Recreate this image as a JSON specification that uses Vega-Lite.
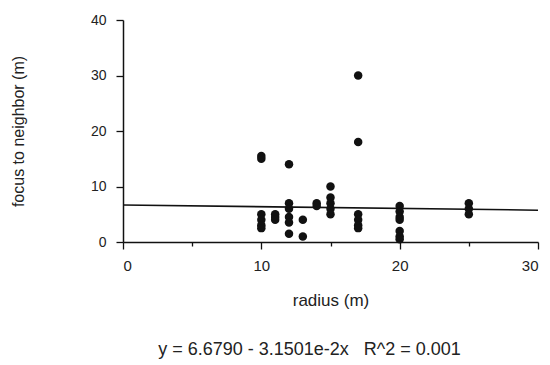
{
  "$schema": "https://vega.github.io/schema/vega-lite/v6.json",
  "width": 415,
  "height": 222,
  "autosize": "none",
  "padding": {"left": 123, "top": 20, "right": 12, "bottom": 123},
  "background": "white",
  "config": {
    "view": {"stroke": null},
    "font": "Liberation Sans",
    "axis": {
      "domainColor": "#111",
      "domainWidth": 1.5,
      "tickColor": "#111",
      "tickWidth": 1.3,
      "grid": false,
      "labelColor": "#222",
      "titleColor": "#222",
      "labelFont": "Liberation Sans",
      "titleFont": "Liberation Sans",
      "titleFontWeight": "normal"
    }
  },
  "title": {
    "text": "y = 6.6790 - 3.1501e-2x \u00a0 R^2 = 0.001",
    "orient": "bottom",
    "anchor": "middle",
    "font": "Liberation Sans",
    "fontSize": 18,
    "fontWeight": "normal",
    "color": "#222",
    "offset": 33,
    "dx": -21
  },
  "datasets": {
    "pts": [
      {"radius": 10, "dist": 15.5}, {"radius": 10, "dist": 15}, {"radius": 10, "dist": 5}, {"radius": 10, "dist": 4}, {"radius": 10, "dist": 3}, {"radius": 10, "dist": 2.5},
      {"radius": 11, "dist": 5}, {"radius": 11, "dist": 4.5}, {"radius": 11, "dist": 4},
      {"radius": 12, "dist": 14}, {"radius": 12, "dist": 7}, {"radius": 12, "dist": 6}, {"radius": 12, "dist": 4.5}, {"radius": 12, "dist": 3.5}, {"radius": 12, "dist": 1.5},
      {"radius": 13, "dist": 4}, {"radius": 13, "dist": 1},
      {"radius": 14, "dist": 7}, {"radius": 14, "dist": 6.5},
      {"radius": 15, "dist": 10}, {"radius": 15, "dist": 8}, {"radius": 15, "dist": 7}, {"radius": 15, "dist": 6}, {"radius": 15, "dist": 5},
      {"radius": 17, "dist": 30}, {"radius": 17, "dist": 18}, {"radius": 17, "dist": 5}, {"radius": 17, "dist": 4}, {"radius": 17, "dist": 3}, {"radius": 17, "dist": 2.5},
      {"radius": 20, "dist": 6.5}, {"radius": 20, "dist": 5.5}, {"radius": 20, "dist": 4.5}, {"radius": 20, "dist": 4}, {"radius": 20, "dist": 2}, {"radius": 20, "dist": 1}, {"radius": 20, "dist": 0.5},
      {"radius": 25, "dist": 7}, {"radius": 25, "dist": 6}, {"radius": 25, "dist": 5}
    ],
    "fit": [
      {"radius": 0, "dist": 6.679},
      {"radius": 30, "dist": 5.734}
    ]
  },
  "layer": [
    {
      "data": {"name": "fit"},
      "mark": {"type": "line", "color": "#111", "strokeWidth": 1.6},
      "encoding": {
        "x": {
          "field": "radius", "type": "quantitative",
          "scale": {"domain": [0, 30], "nice": false, "zero": false},
          "axis": {
            "values": [0, 5, 10, 15, 20, 25, 30],
            "labelExpr": "datum.value % 10 === 0 ? datum.label : ''",
            "tickSize": {"condition": {"test": "datum.value % 10 === 0", "value": 7}, "value": 4},
            "labelFontSize": 15,
            "labelPadding": 9,
            "title": "radius (m)",
            "titleFontSize": 17,
            "titlePadding": 19
          }
        },
        "y": {
          "field": "dist", "type": "quantitative",
          "scale": {"domain": [0, 40], "nice": false},
          "axis": {
            "values": [0, 5, 10, 15, 20, 25, 30, 35, 40],
            "labelExpr": "datum.value % 10 === 0 ? datum.label : ''",
            "tickSize": {"condition": {"test": "datum.value % 10 === 0", "value": 7}, "value": 4},
            "labelFontSize": 14,
            "labelPadding": 10,
            "title": "focus to neighbor (m)",
            "titleFontSize": 16,
            "titlePadding": 64
          }
        }
      }
    },
    {
      "data": {"name": "pts"},
      "mark": {"type": "circle", "color": "#111", "opacity": 1, "size": 72},
      "encoding": {
        "x": {"field": "radius", "type": "quantitative"},
        "y": {"field": "dist", "type": "quantitative"}
      }
    }
  ]
}
